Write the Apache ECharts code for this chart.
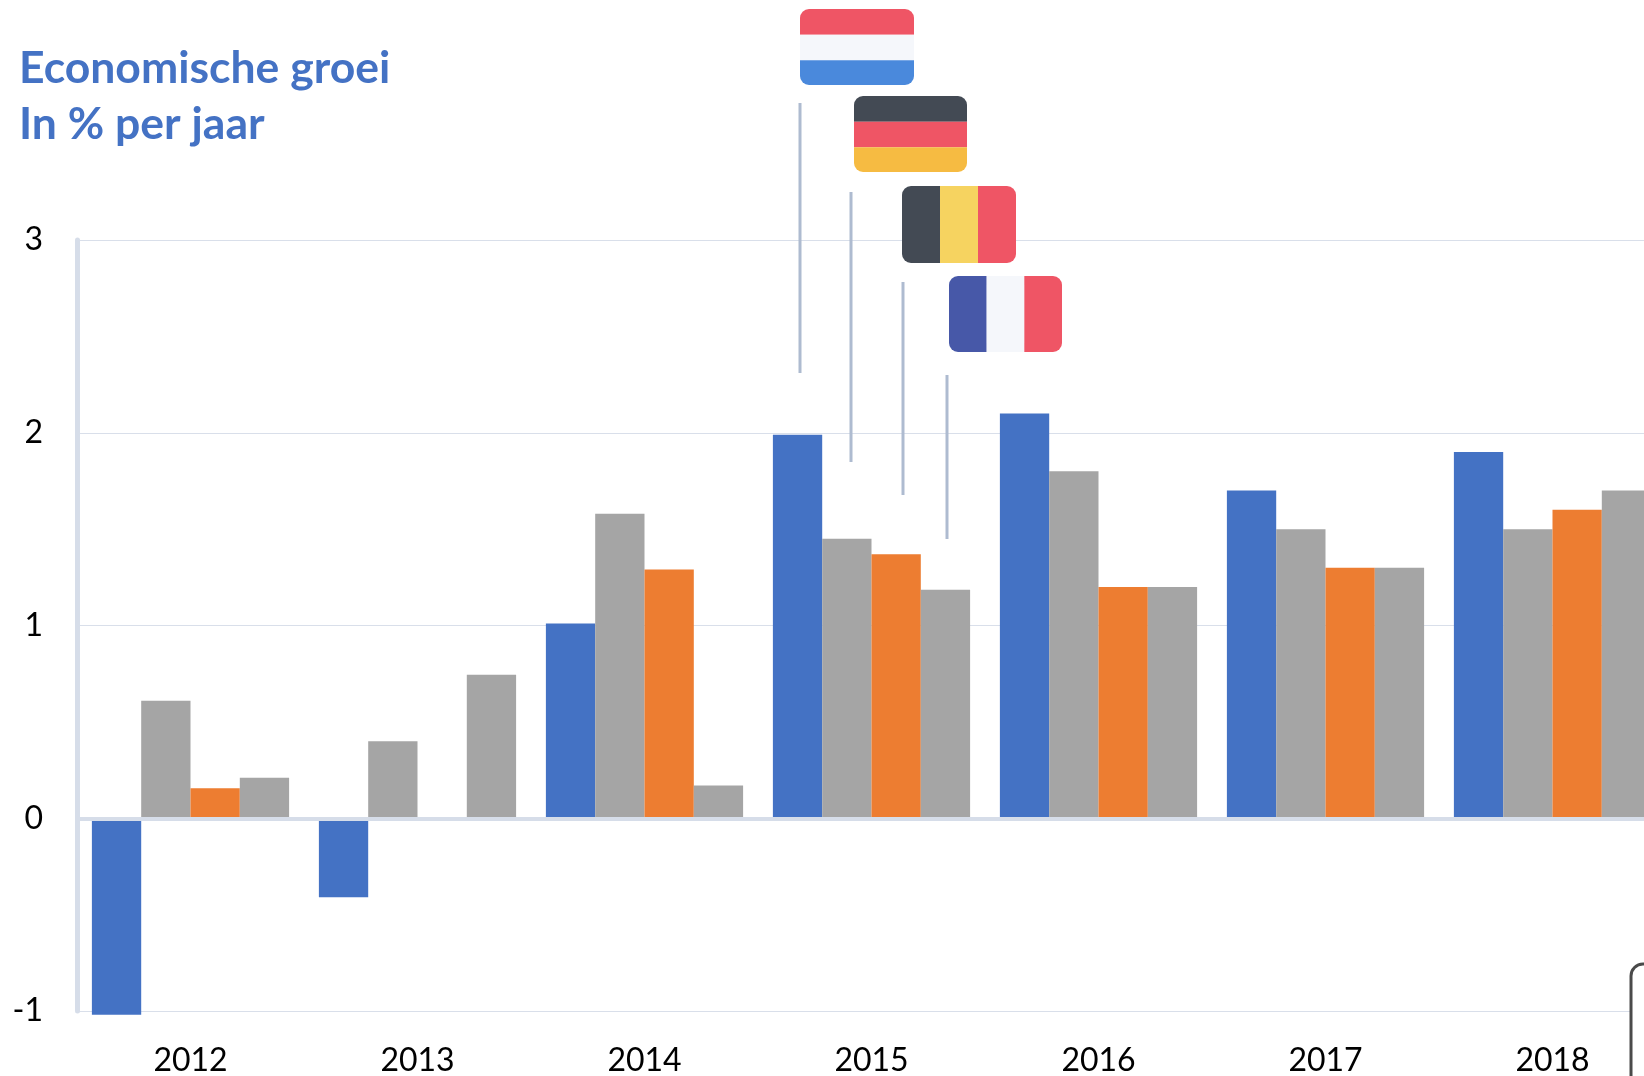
<!DOCTYPE html>
<html>
<head>
<meta charset="utf-8">
<style>html,body{margin:0;padding:0;background:#fff;overflow:hidden}#c{width:1644px;height:1076px}</style>
<script src="https://cdn.jsdelivr.net/npm/echarts@6/dist/echarts.min.js"></script>
</head>
<body>
<div id="c"></div>
<script>
const years = ['2012','2013','2014','2015','2016','2017','2018'];
const nederland = [-1.02,-0.41,1.01,1.99,2.10,1.70,1.90];
const duitsland = [0.61,0.40,1.58,1.45,1.80,1.50,1.50];
const belgie = [0.155,null,1.29,1.37,1.20,1.30,1.60];
const frankrijk = [0.21,0.745,0.17,1.185,1.20,1.30,1.70];

const FONT = 'Lato';
const RED='#EF5565', WHITE='#F5F7FB', BLUE='#4A89DC', DARK='#434A54', GOLD='#F6BB42', YEL='#F6D360', NAVY='#4758A8';
const R = 9;

function stripesH(x,y,w,h,c){
  const s=h/3;
  return [
    {type:'rect',shape:{x,y,width:w,height:s+0.5,r:[R,R,0,0]},style:{fill:c[0]}},
    {type:'rect',shape:{x,y:y+s+0.5,width:w,height:s},style:{fill:c[1]}},
    {type:'rect',shape:{x,y:y+2*s+0.5,width:w,height:s-0.5,r:[0,0,R,R]},style:{fill:c[2]}}
  ];
}
function stripesV(x,y,w,h,c){
  const s=w/3;
  return [
    {type:'rect',shape:{x,y,width:s,height:h,r:[R,0,0,R]},style:{fill:c[0]}},
    {type:'rect',shape:{x:x+s,y,width:s,height:h},style:{fill:c[1]}},
    {type:'rect',shape:{x:x+2*s,y,width:s,height:h,r:[0,R,R,0]},style:{fill:c[2]}}
  ];
}
function leader(x,y1,y2){
  return {type:'rect',shape:{x:x-1.5,y:y1,width:3,height:y2-y1},style:{fill:'#AEBBD0'}};
}
const overlay = [
  leader(800,103,373),
  leader(851,192,462),
  leader(903,282,495),
  leader(947,375,539),
  ...stripesH(800,9,114,76,[RED,WHITE,BLUE]),
  ...stripesH(854,96,113,76,[DARK,RED,GOLD]),
  ...stripesV(902,186,114,77,[DARK,YEL,RED]),
  ...stripesV(949,276,113,76,[NAVY,WHITE,RED]),
  {type:'rect',shape:{x:1631,y:964,width:60,height:160,r:12},style:{fill:'#fff',stroke:'#4a4a4a',lineWidth:3}}
].map(e=>Object.assign({z:20},e));

function bar(name,data,color){
  return {name,type:'bar',data,xAxisIndex:0,yAxisIndex:0,barWidth:'21.72%',barGap:0,clip:false,
    itemStyle:{color},silent:true};
}

const chart = echarts.init(document.getElementById('c'),null,{renderer:'canvas'});
chart.setOption({
  animation:false,
  backgroundColor:'#fff',
  textStyle:{fontFamily:FONT},
  title:{
    text:'Economische groei\nIn % per jaar',left:14,top:36,
    textStyle:{fontFamily:FONT,fontWeight:'bold',fontSize:44.5,lineHeight:56,color:'#4472C4'}
  },
  grid:{left:77,top:240,width:1589,height:771,containLabel:false,outerBoundsMode:'none'},
  xAxis:[
    {type:'category',data:years,position:'bottom',
      axisLine:{show:false,onZero:false},axisTick:{show:false},splitLine:{show:false},
      axisLabel:{fontFamily:FONT,fontSize:32,color:'#000',margin:34}},
    {type:'category',data:years,position:'bottom',z:5,
      axisLine:{show:true,onZero:true,lineStyle:{color:'#D6DDE9',width:4}},
      axisTick:{show:false},axisLabel:{show:false},splitLine:{show:false}}
  ],
  yAxis:{type:'value',min:-1,max:3,interval:1,
    axisLine:{show:true,lineStyle:{color:'#D6DDE9',width:5}},
    axisTick:{show:false},
    axisLabel:{fontFamily:FONT,fontSize:32,color:'#000',margin:34},
    splitLine:{show:true,lineStyle:{color:'#D9DFEA',width:1}}
  },
  series:[
    bar('Nederland',nederland,'#4472C4'),
    bar('Duitsland',duitsland,'#A5A5A5'),
    bar('België',belgie,'#ED7D31'),
    bar('Frankrijk',frankrijk,'#A5A5A5')
  ],
  graphic:{elements:overlay}
});
</script>
</body>
</html>
